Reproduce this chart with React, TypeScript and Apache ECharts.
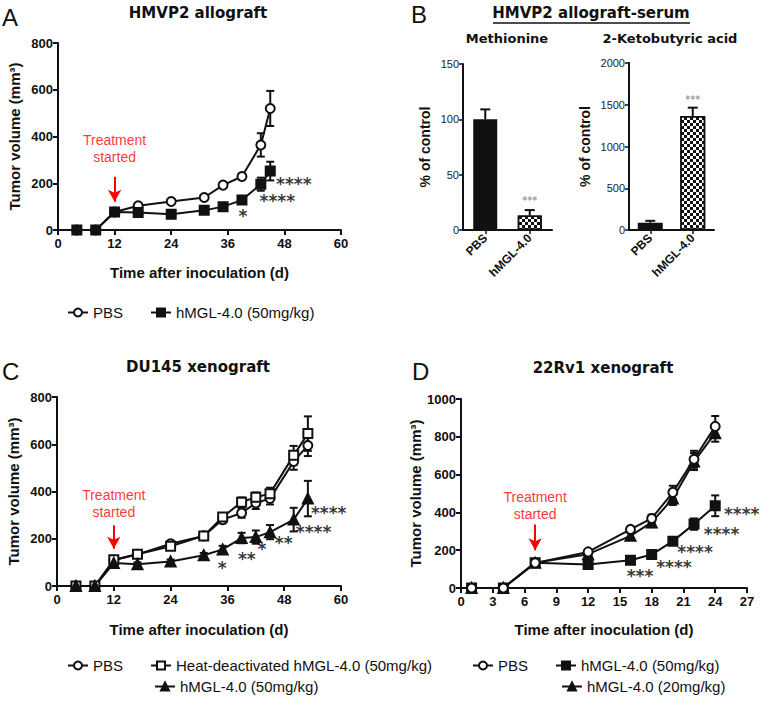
import React, { useEffect, useRef } from "react";
import * as echarts from "echarts";

// ---------- Data ----------
// Panel A: HMVP2 allograft
const daysA = [4, 8, 12, 17, 24, 31, 35, 39, 43, 45];
const pbsA = [0, 0, 77, 104, 122, 139, 192, 229, 364, 520];
const pbsAErr = [0, 0, 6, 8, 8, 8, 10, 12, 50, 75];
const hmglA = [0, 0, 77, 75, 67, 84, 100, 128, 196, 252];
const hmglAErr = [0, 0, 6, 6, 6, 8, 8, 12, 28, 40];
const starXA = [39.2, 46.5, 50];
const starYA = [62, 124, 195];
const starTxtA = ["*", "****", "****"];

// Panel B: serum metabolites
const barCats = ["PBS", "hMGL-4.0"];
const metVals = [100, 13];
const metErr = [9, 5];
const ketoVals = [88, 1365];
const ketoErr = [22, 100];

// Panel C: DU145 xenograft
const daysC = [4, 8, 12, 17, 24, 31, 35, 39, 42, 45, 50, 53];
const pbsC = [0, 0, 109, 134, 179, 212, 281, 309, 351, 370, 527, 595];
const pbsCErr = [0, 0, 10, 10, 12, 15, 15, 20, 25, 25, 35, 45];
const heatC = [0, 0, 111, 134, 168, 212, 292, 355, 376, 391, 553, 645];
const heatCErr = [0, 0, 10, 10, 12, 15, 15, 20, 20, 25, 40, 73];
const hmglC = [0, 0, 97, 92, 104, 130, 155, 203, 207, 228, 281, 370];
const hmglCErr = [0, 0, 8, 8, 8, 10, 15, 22, 28, 30, 50, 75];
const starXC = [34.9, 40.1, 43.3, 47.9, 54.2, 57.4];
const starYC = [78, 114, 156, 184, 229, 311];
const starTxtC = ["*", "**", "*", "**", "****", "****"];

// Panel D: 22Rv1 xenograft
const daysD = [1, 4, 7, 12, 16, 18, 20, 22, 24];
const pbsD = [0, 0, 133, 191, 310, 368, 506, 681, 855];
const pbsDErr = [0, 0, 8, 12, 15, 20, 35, 45, 55];
const h50D = [0, 0, 133, 124, 147, 177, 248, 338, 435];
const h50DErr = [0, 0, 8, 8, 8, 12, 20, 30, 55];
const h20D = [0, 0, 133, 179, 276, 347, 474, 669, 819];
const h20DErr = [0, 0, 8, 10, 15, 25, 35, 45, 45];
const starXD = [16.9, 20.1, 22.1, 24.6, 26.5];
const starYD = [65, 109, 193, 286, 393];
const starTxtD = ["***", "****", "****", "****", "****"];

// Treatment annotations: [x, textY, arrowFrom, arrowTo]
const treatA = [12, 348, 228, 121];
const treatC = [12, 350, 257, 158];
const treatD = [7, 439, 336, 200];

const legendNames: Record<string, string> = {
  A_pbs: "PBS",
  A_h50: "hMGL-4.0 (50mg/kg)",
  C_pbs: "PBS",
  C_heat: "Heat-deactivated hMGL-4.0 (50mg/kg)",
  C_h50: "hMGL-4.0 (50mg/kg)",
  D_pbs: "PBS",
  D_h50: "hMGL-4.0 (50mg/kg)",
  D_h20: "hMGL-4.0 (20mg/kg)",
};

// ---------- Styling helpers ----------
const FONT = "'Liberation Sans', Arial, sans-serif";
const TFONT = "'DejaVu Sans', sans-serif";
const INK = "#111";
const plain = (v: number) => String(v);

const axisLine = { show: true, onZero: false, lineStyle: { color: INK, width: 2 } };
const axisTick = { show: true, length: 5, lineStyle: { color: INK, width: 2 } };
const tickLabel = { color: INK, fontSize: 13, fontWeight: "bold", fontFamily: FONT, formatter: plain };
const nameStyle = { color: INK, fontSize: 15, fontWeight: "bold", fontFamily: FONT };

function xVal(gi: number, max: number, interval: number, gap: number) {
  return {
    type: "value", gridIndex: gi, min: 0, max, interval,
    axisLine, axisTick, splitLine: { show: false },
    axisLabel: { ...tickLabel, margin: 7 },
    name: "Time after inoculation (d)", nameLocation: "middle", nameGap: gap,
    nameTextStyle: nameStyle,
  };
}
function yVal(gi: number, max: number, interval: number, gap: number) {
  return {
    type: "value", gridIndex: gi, min: 0, max, interval,
    axisLine, axisTick, splitLine: { show: false },
    axisLabel: { ...tickLabel, margin: 5 },
    name: "Tumor volume (mm³)", nameLocation: "middle", nameGap: gap,
    nameTextStyle: nameStyle,
  };
}

function lineS(name: string, ax: number, xs: number[], ys: number[], symbol: string, filled: boolean) {
  return {
    type: "line", name, xAxisIndex: ax, yAxisIndex: ax,
    data: xs.map((x, i) => [x, ys[i]]),
    symbol, symbolSize: symbol === "triangle" ? 10 : 9, showAllSymbol: true,
    lineStyle: { color: INK, width: 2 },
    itemStyle: { color: filled ? INK : "#fff", borderColor: INK, borderWidth: 2 },
    z: 3, clip: false, silent: true,
  };
}

function errS(ax: number, xs: number[], ys: number[], es: number[], upOnly = false, cap = 4) {
  return {
    type: "custom", xAxisIndex: ax, yAxisIndex: ax, silent: true, z: 2, clip: false,
    data: xs.map((x, i) => [x, ys[i], es[i]]),
    renderItem: (params: any, api: any) => {
      const x = api.value(0), y = api.value(1), e = api.value(2);
      if (!e) return null;
      const top = api.coord([x, y + e]);
      const bot = upOnly ? api.coord([x, y]) : api.coord([x, y - e]);
      const st = { stroke: INK, lineWidth: 2 };
      const children: any[] = [
        { type: "line", shape: { x1: top[0], y1: top[1], x2: bot[0], y2: bot[1] }, style: st },
        { type: "line", shape: { x1: top[0] - cap, y1: top[1], x2: top[0] + cap, y2: top[1] }, style: st },
      ];
      if (!upOnly) {
        children.push({ type: "line", shape: { x1: bot[0] - cap, y1: bot[1], x2: bot[0] + cap, y2: bot[1] }, style: st });
      }
      return { type: "group", children };
    },
  };
}

function textS(ax: number, xs: any[], ys: number[], texts: string[], label: any) {
  return {
    type: "scatter", xAxisIndex: ax, yAxisIndex: ax, silent: true, clip: false, z: 5,
    symbolSize: 1, itemStyle: { color: "rgba(0,0,0,0)" },
    data: xs.map((x, i) => ({ value: [x, ys[i]], label: { formatter: texts[i] } })),
    label: { show: true, position: "inside", textBorderWidth: 0, ...label },
  };
}

const starLabel = { color: "#000", fontSize: 17, fontWeight: "bold", fontFamily: TFONT };
const treatLabel = { color: "#f00", fontSize: 14, fontFamily: FONT, lineHeight: 17 };

function treatS(ax: number, t: number[]) {
  return {
    ...textS(ax, [t[0]], [t[1]], ["Treatment\nstarted"], treatLabel),
    markLine: {
      silent: true, symbol: ["none", "arrow"], symbolSize: [10, 12],
      lineStyle: { color: "#f00", width: 2, type: "solid" },
      label: { show: false },
      data: [[{ coord: [t[0], t[2]] }, { coord: [t[0], t[3]] }]],
    },
  };
}

const legendText = { color: INK, fontSize: 15, fontFamily: FONT };
function legend(names: string[], left: number, top: number) {
  return {
    data: names, left, top, orient: "horizontal", itemWidth: 20, itemHeight: 10,
    itemGap: 27, textStyle: legendText, selectedMode: false,
    formatter: (n: string) => legendNames[n] || n,
  };
}

const checker = {
  symbol: "rect", symbolSize: 1, color: INK,
  dashArrayX: [[3, 3], [0, 3, 3, 0]], dashArrayY: [3, 0],
};

function barS(ax: number, vals: number[], width: number) {
  return {
    type: "bar", xAxisIndex: ax, yAxisIndex: ax, barWidth: width, silent: true, z: 2,
    data: vals.map((v, i) => ({
      value: v,
      itemStyle: i === 0
        ? { color: INK, borderColor: INK, borderWidth: 1.5 }
        : { color: "#fff", borderColor: INK, borderWidth: 1.5, decal: checker },
    })),
  };
}

function barAxes(gi: number, max: number, interval: number, gap: number) {
  return {
    x: {
      type: "category", gridIndex: gi, data: barCats,
      axisLine: { show: true, lineStyle: { color: INK, width: 2 } },
      axisTick: { show: true, alignWithLabel: true, length: 4, lineStyle: { color: INK, width: 1.5 } },
      axisLabel: { color: INK, fontSize: 12, fontWeight: "bold", fontFamily: FONT, rotate: 45, margin: 6, interval: 0 },
    },
    y: {
      type: "value", gridIndex: gi, min: 0, max, interval,
      axisLine: { show: true, lineStyle: { color: INK, width: 2 } },
      axisTick: { show: true, length: 4, lineStyle: { color: INK, width: 1.5 } },
      splitLine: { show: false },
      axisLabel: { color: "#222", fontSize: 11, fontFamily: FONT, margin: 4, formatter: plain },
      name: "% of control", nameLocation: "middle", nameGap: gap,
      nameTextStyle: { color: INK, fontSize: 14, fontWeight: "bold", fontFamily: FONT },
    },
  };
}

function txt(text: string, x: number, y: number, size: number, bold: boolean, family: string, align = "center") {
  return {
    type: "text", x, y, silent: true,
    style: {
      text, fill: INK, fontSize: size, fontWeight: bold ? "bold" : "normal", fontFamily: family,
      textAlign: align, textVerticalAlign: "middle",
    },
  };
}

export default function App() {
  const ref = useRef<HTMLDivElement>(null);
  useEffect(() => {
    if (!ref.current) return;
    const chart = echarts.init(ref.current, undefined, { renderer: "svg" });
    const b1 = barAxes(1, 150, 50, 31);
    const b2 = barAxes(2, 2000, 500, 37);
    const option: any = {
      animation: false,
      backgroundColor: "#fff",
      grid: [
        { left: 58, top: 43, width: 283, height: 187 },
        { left: 463, top: 64, width: 89, height: 166 },
        { left: 629, top: 63, width: 85, height: 167 },
        { left: 57, top: 397, width: 284, height: 189 },
        { left: 461, top: 399, width: 286, height: 189 },
      ],
      xAxis: [xVal(0, 60, 12, 35), b1.x, b2.x, xVal(3, 60, 12, 36), xVal(4, 27, 3, 34)],
      yAxis: [yVal(0, 800, 200, 36), b1.y, b2.y, yVal(3, 800, 200, 36), yVal(4, 1000, 200, 36)],
      legend: [
        legend(["A_pbs", "A_h50"], 62, 300),
        legend(["C_pbs", "C_heat"], 62, 653),
        legend(["C_h50"], 149, 674),
        legend(["D_pbs", "D_h50"], 467, 653),
        legend(["D_h20"], 556, 674),
      ],
      graphic: [
        txt("A", 2, 17, 24, false, FONT, "left"),
        txt("B", 411, 14, 24, false, FONT, "left"),
        txt("C", 2, 371, 24, false, FONT, "left"),
        txt("D", 412, 371, 24, false, FONT, "left"),
        txt("HMVP2 allograft", 198, 13, 15, true, TFONT),
        txt("HMVP2 allograft-serum", 591, 13, 15, true, TFONT),
        { type: "line", silent: true, shape: { x1: 493, y1: 23, x2: 690, y2: 23 }, style: { stroke: INK, lineWidth: 1.5 } },
        txt("Methionine", 507, 38, 13, true, TFONT),
        txt("2-Ketobutyric acid", 670, 38, 13, true, TFONT),
        txt("DU145 xenograft", 198, 367, 15, true, TFONT),
        txt("22Rv1 xenograft", 603, 368, 15, true, TFONT),
      ],
      series: [
        // A
        errS(0, daysA, pbsA, pbsAErr),
        errS(0, daysA, hmglA, hmglAErr),
        lineS("A_pbs", 0, daysA, pbsA, "circle", false),
        lineS("A_h50", 0, daysA, hmglA, "rect", true),
        textS(0, starXA, starYA, starTxtA, starLabel),
        treatS(0, treatA),
        // B1
        barS(1, metVals, 24),
        errS(1, [0, 1], metVals, metErr, true, 5),
        textS(1, [1], [27], ["***"], { color: "#555", fontSize: 10, fontFamily: TFONT }),
        // B2
        barS(2, ketoVals, 25),
        errS(2, [0, 1], ketoVals, ketoErr, true, 5),
        textS(2, [1], [1560], ["***"], { color: "#555", fontSize: 10, fontFamily: TFONT }),
        // C
        errS(3, daysC, pbsC, pbsCErr),
        errS(3, daysC, heatC, heatCErr),
        errS(3, daysC, hmglC, hmglCErr),
        lineS("C_pbs", 3, daysC, pbsC, "circle", false),
        lineS("C_heat", 3, daysC, heatC, "rect", false),
        lineS("C_h50", 3, daysC, hmglC, "triangle", true),
        textS(3, starXC, starYC, starTxtC, starLabel),
        treatS(3, treatC),
        // D
        errS(4, daysD, pbsD, pbsDErr),
        errS(4, daysD, h50D, h50DErr),
        errS(4, daysD, h20D, h20DErr),
        lineS("D_h20", 4, daysD, h20D, "triangle", true),
        lineS("D_h50", 4, daysD, h50D, "rect", true),
        lineS("D_pbs", 4, daysD, pbsD, "circle", false),
        textS(4, starXD, starYD, starTxtD, starLabel),
        treatS(4, treatD),
      ],
    };
    chart.setOption(option);
    return () => chart.dispose();
  }, []);
  return (
    <div
      ref={ref}
      style={{ position: "fixed", left: 0, top: 0, width: 762, height: 702, background: "#fff" }}
    />
  );
}
